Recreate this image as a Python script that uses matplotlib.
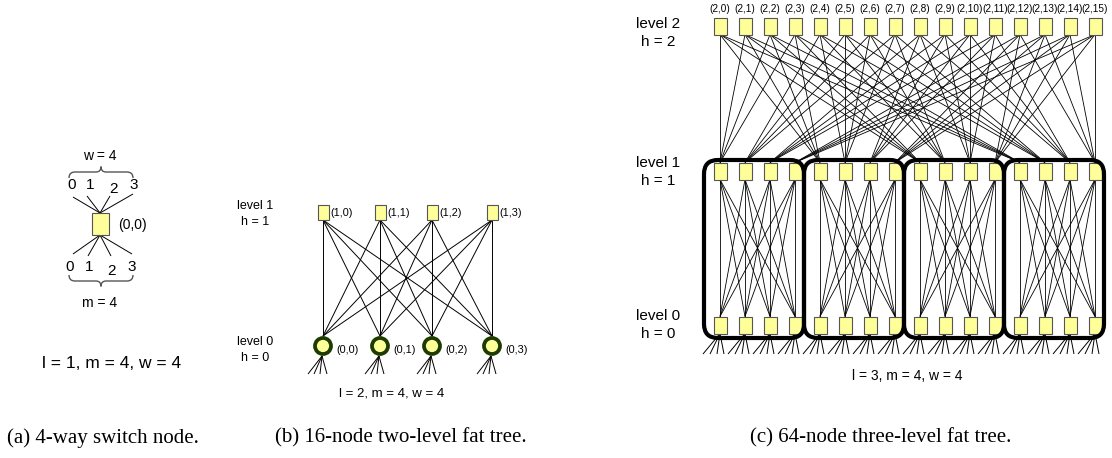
import matplotlib
matplotlib.use("Agg")
import matplotlib.pyplot as plt
from matplotlib.patches import Rectangle, Circle, FancyBboxPatch, PathPatch
from matplotlib.path import Path

# ---- data ----
a_port_labels = ["0", "1", "2", "3"]
a_node_label = "(0,0)"
a_params = "l = 1, m = 4, w = 4"

b_level1_labels = ["(1,0)", "(1,1)", "(1,2)", "(1,3)"]
b_level0_labels = ["(0,0)", "(0,1)", "(0,2)", "(0,3)"]
b_params = "l = 2, m = 4, w = 4"

c_level2_labels = ["(2,%d)" % j for j in range(16)]
c_params = "l = 3, m = 4, w = 4"
m = 4

captions = ["(a) 4-way switch node.", "(b) 16-node two-level fat tree.",
            "(c) 64-node three-level fat tree."]

YEL = "#ffff99"
EDGE = "#555555"
GRN = "#1c3c00"
SANS = "Liberation Sans"

fig = plt.figure(figsize=(11.12, 4.58), dpi=100)
ax = fig.add_axes([0, 0, 1, 1])
ax.set_xlim(0, 1112)
ax.set_ylim(458, 0)
ax.axis("off")


def node(x, y, w, h, z=3):
    ax.add_patch(Rectangle((x - w / 2, y - h / 2), w, h, facecolor=YEL,
                           edgecolor=EDGE, lw=0.8, zorder=z))


def line(x0, y0, x1, y1, lw=0.7, c="black"):
    ax.plot([x0, x1], [y0, y1], color=c, lw=lw, zorder=2, solid_capstyle="butt")


def txt(x, y, s, size, ha="center", family=SANS):
    ax.text(x, y, s, fontsize=size, ha=ha, va="center", family=family, zorder=6)


def brace(x0, x1, y, d):
    # d > 0 : arms point down (brace above), d < 0 : arms point up
    xm = (x0 + x1) / 2
    verts = [(x0, y + d), (x0, y), (x0 + 6, y),
             (xm - 5, y), (xm, y), (xm, y - d * 0.9),
             (xm, y), (xm + 5, y),
             (x1 - 6, y), (x1, y), (x1, y + d)]
    codes = [Path.MOVETO, Path.CURVE3, Path.CURVE3,
             Path.LINETO, Path.CURVE3, Path.CURVE3,
             Path.CURVE3, Path.CURVE3,
             Path.LINETO, Path.CURVE3, Path.CURVE3]
    ax.add_patch(PathPatch(Path(verts, codes), facecolor="none",
                           edgecolor=EDGE, lw=1.0, zorder=2))


# ---- (a) single switch ----
ax_x, ax_y = 100, 224
node(ax_x, ax_y, 17, 22)
txt(ax_x + 32, ax_y + 1, a_node_label, 10)
top_x = [72, 90, 114, 134]
top_end = [(73, 197), (87, 196), (110, 196), (133, 194)]
bot_x = [70, 89, 111, 132]
bot_end = [(73, 254), (88, 256), (111, 256), (132, 254)]
for i, lab in enumerate(a_port_labels):
    dy = 4 if i == 2 else 0
    txt(top_x[i], 185 + dy, lab, 11)
    txt(bot_x[i], 267 + dy, lab, 11)
    line(ax_x, ax_y - 11, *top_end[i])
    line(ax_x, ax_y + 11, *bot_end[i])
brace(69, 133, 172, 6)
brace(69, 133, 281, -6)
txt(100, 156, "w = 4", 10)
txt(100, 303, "m = 4", 10)
txt(112, 364, a_params, 12.5)

# ---- (b) two-level fat tree ----
bx = [323, 380, 432, 492]
b_y1, b_y0 = 212, 346
for i in range(m):
    for j in range(m):
        line(bx[i], b_y1 + 8, bx[j], b_y0 - 10)
for i in range(m):
    node(bx[i], b_y1, 11, 15)
    txt(bx[i] + 7, b_y1 + 1, b_level1_labels[i], 7.8, ha="left")
    ax.add_patch(Circle((bx[i], b_y0), 8, facecolor=YEL, edgecolor=GRN,
                        lw=2.7, zorder=4))
    txt(bx[i] + 13, b_y0 + 4, b_level0_labels[i], 7.8, ha="left")
    for dx in [-15, -9, -3, 4]:
        line(bx[i] - 1, b_y0 + 10, bx[i] + dx, b_y0 + 28)
txt(255, 206, "level 1", 9)
txt(255, 222, "h = 1", 9)
txt(255, 342, "level 0", 9)
txt(255, 358, "h = 0", 9)
txt(392, 393, b_params, 9.5)

# ---- (c) three-level fat tree ----
cx = [720 + 25 * k for k in range(16)]
y2, y1, y0 = 26, 171, 325
nw, nh = 13, 17
# level 2 -> level 1 : switch j reaches position j // m in every group
for j in range(16):
    for g in range(m):
        line(cx[j], y2 + nh / 2, cx[g * m + j // m], y1 - nh / 2, lw=0.6)
# level 1 -> level 0 inside each group
for g in range(m):
    for a in range(m):
        for b in range(m):
            line(cx[g * m + a], y1 + nh / 2, cx[g * m + b], y0 - nh / 2, lw=0.6)
for k in range(16):
    node(cx[k], y2, nw, nh)
    node(cx[k], y1, nw, nh)
    node(cx[k], y0, nw, nh)
    txt(cx[k], 9, c_level2_labels[k], 7.2)
    for dx in [-17, -10, -3, 4]:
        line(cx[k], y0 + nh / 2, cx[k] + dx, y0 + 29, lw=0.7)
for g in range(m):
    x0 = cx[g * m] - 16
    ax.add_patch(FancyBboxPatch((x0, 160), 100, 178,
                                boxstyle="round,pad=0,rounding_size=14",
                                facecolor="none", edgecolor="black",
                                lw=3.0, zorder=5))
txt(658, 24, "level 2", 11)
txt(658, 42, "h = 2", 11)
txt(658, 163, "level 1", 11)
txt(658, 181, "h = 1", 11)
txt(658, 316, "level 0", 11)
txt(658, 334, "h = 0", 11)
txt(907, 376, c_params, 10)

# ---- captions ----
for x, s in zip([7, 275, 750], captions):
    ax.text(x, 438, s, fontsize=15, ha="left", va="center",
            family="Liberation Serif")

fig.savefig("out.png", dpi=100)
